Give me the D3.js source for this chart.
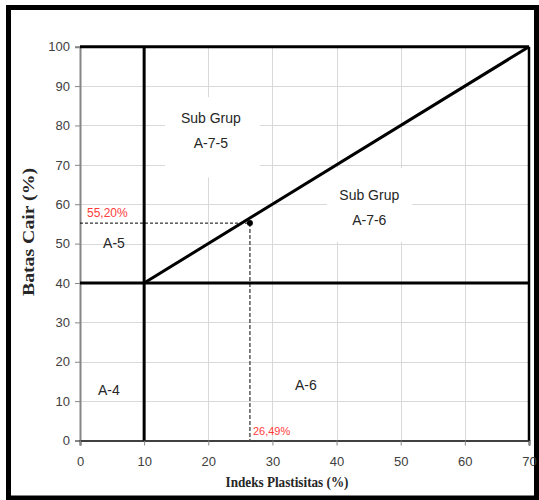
<!DOCTYPE html>
<html>
<head>
<meta charset="utf-8">
<script src="https://cdn.jsdelivr.net/npm/d3@7"></script>
<style>
  html, body { margin: 0; padding: 0; background: #fff; }
  svg { display: block; }
</style>
</head>
<body>
<svg id="chart" width="539" height="500"></svg>
<script>
// ---- data ----
const xTicks = [0, 10, 20, 30, 40, 50, 60, 70];
const yTicks = [0, 10, 20, 30, 40, 50, 60, 70, 80, 90, 100];
const xDomain = [0, 70];
const yDomain = [0, 100];
// classification boundaries (data units)
const boundaryLines = [
  [[10, 0], [10, 100]],
  [[0, 40], [70, 40]],
  [[10, 40], [70, 100]]
];
// sample point
const plasticityIndex = 26.49;
const liquidLimit = 55.2;
const piLabel = "26,49%";
const llLabel = "55,20%";
// region labels [x, y(baseline), lines]
const regionLabels = [
  { x: 20.4, y: 80.6, lines: ["Sub Grup", "A-7-5"] },
  { x: 45.1, y: 61.0, lines: ["Sub Grup", "A-7-6"] },
  { x: 5.3, y: 48.9, lines: ["A-5"] },
  { x: 4.5, y: 11.5, lines: ["A-4"] },
  { x: 35.2, y: 12.8, lines: ["A-6"] }
];
// white label boxes [x0, x1, y0, y1]
const labelBoxes = [
  [13.25, 28.06, 66.8, 87.2],
  [38.5, 51.8, 50.4, 69.2]
];
const xTitle = "Indeks Plastisitas (%)";
const yTitle = "Batas Cair (%)";

// ---- drawing ----
const svg = d3.select("#chart");
const sans = "'Liberation Sans', Arial, sans-serif";
const serif = "'Liberation Serif', 'Times New Roman', serif";

const x = d3.scaleLinear().domain(xDomain).range([80, 529]);
const y = d3.scaleLinear().domain(yDomain).range([440.5, 46.7]);

// outer frame
svg.append("rect")
  .attr("x", 8.5).attr("y", 7.5).attr("width", 528).attr("height", 490.5)
  .attr("fill", "#fff").attr("stroke", "#000").attr("stroke-width", 5);

// gridlines
const grid = svg.append("g").attr("stroke", "#d9d9d9").attr("stroke-width", 1);
grid.selectAll(".gy").data(yTicks.filter(d => d > 0 && d < 100)).join("line")
  .attr("x1", x(0)).attr("x2", x(70))
  .attr("y1", d => Math.round(y(d)) + 0.5).attr("y2", d => Math.round(y(d)) + 0.5);
grid.selectAll(".gx").data(xTicks.filter(d => d > 0 && d < 70)).join("line")
  .attr("y1", y(0)).attr("y2", y(100))
  .attr("x1", d => Math.round(x(d)) + 0.5).attr("x2", d => Math.round(x(d)) + 0.5);

// white label boxes
svg.selectAll(".box").data(labelBoxes).join("rect")
  .attr("x", d => x(d[0])).attr("width", d => x(d[1]) - x(d[0]))
  .attr("y", d => y(d[3])).attr("height", d => y(d[2]) - y(d[3]))
  .attr("fill", "#fff");

// axes
const yAxis = d3.axisLeft(y).tickValues(yTicks).tickSize(5).tickPadding(5).tickFormat(d3.format("d"));
const gy = svg.append("g").attr("transform", `translate(${x(0)},0)`).call(yAxis);
gy.select(".domain").attr("stroke", "#868686").attr("stroke-width", 2);
gy.selectAll(".tick line").attr("stroke", "#868686");
gy.selectAll(".tick text").attr("fill", "#404040").attr("font-family", sans).attr("font-size", 13);

const xAxis = d3.axisBottom(x).tickValues(xTicks).tickSize(5).tickPadding(11).tickFormat(d3.format("d"));
const gx = svg.append("g").attr("transform", `translate(0,${y(0)})`).call(xAxis);
gx.select(".domain").attr("stroke", "#404040").attr("stroke-width", 2);
gx.selectAll(".tick line").attr("stroke", "#868686");
gx.selectAll(".tick text").attr("fill", "#404040").attr("font-family", sans).attr("font-size", 13);

// frame lines top / right
svg.append("line").attr("x1", x(0)).attr("x2", x(70)).attr("y1", y(100)).attr("y2", y(100))
  .attr("stroke", "#000").attr("stroke-width", 3);
svg.append("line").attr("x1", x(70)).attr("x2", x(70)).attr("y1", y(100)).attr("y2", y(0))
  .attr("stroke", "#000").attr("stroke-width", 2.5);

// dashed guides
svg.append("line")
  .attr("x1", x(0)).attr("x2", x(plasticityIndex))
  .attr("y1", y(liquidLimit)).attr("y2", y(liquidLimit))
  .attr("stroke", "#000").attr("stroke-width", 1).attr("stroke-dasharray", "3,2");
svg.append("line")
  .attr("x1", x(plasticityIndex)).attr("x2", x(plasticityIndex))
  .attr("y1", y(liquidLimit)).attr("y2", y(0))
  .attr("stroke", "#595959").attr("stroke-width", 1.5).attr("stroke-dasharray", "4,2");

// boundaries
const line = d3.line().x(d => x(d[0])).y(d => y(d[1]));
svg.selectAll(".bnd").data(boundaryLines).join("path")
  .attr("d", line).attr("fill", "none").attr("stroke", "#000").attr("stroke-width", 3);

// point
svg.append("circle").attr("cx", x(plasticityIndex)).attr("cy", y(liquidLimit)).attr("r", 3).attr("fill", "#000");

// value labels
svg.append("text").attr("x", x(0) + 7).attr("y", y(liquidLimit) - 6)
  .attr("font-family", sans).attr("font-size", 12).attr("fill", "#ff3b3b").text(llLabel);
svg.append("text").attr("x", x(plasticityIndex) + 3).attr("y", y(0) - 6)
  .attr("font-family", sans).attr("font-size", 11).attr("fill", "#ff3b3b").text(piLabel);

// region labels
regionLabels.forEach(r => {
  const t = svg.append("text").attr("text-anchor", "middle")
    .attr("font-family", sans).attr("font-size", 14).attr("fill", "#262626");
  r.lines.forEach((s, i) => {
    t.append("tspan").attr("x", x(r.x)).attr("y", y(r.y) + i * 25).text(s);
  });
});

// axis titles
svg.append("text").attr("x", 287).attr("y", 487).attr("text-anchor", "middle")
  .attr("font-family", serif).attr("font-weight", "bold").attr("font-size", 14)
  .attr("textLength", 123).attr("lengthAdjust", "spacingAndGlyphs").attr("fill", "#262626")
  .text(xTitle);
svg.append("text").attr("transform", "translate(34,232) rotate(-90)").attr("text-anchor", "middle")
  .attr("font-family", serif).attr("font-weight", "bold").attr("font-size", 17)
  .attr("textLength", 128).attr("lengthAdjust", "spacingAndGlyphs").attr("fill", "#262626")
  .text(yTitle);
</script>
</body>
</html>
